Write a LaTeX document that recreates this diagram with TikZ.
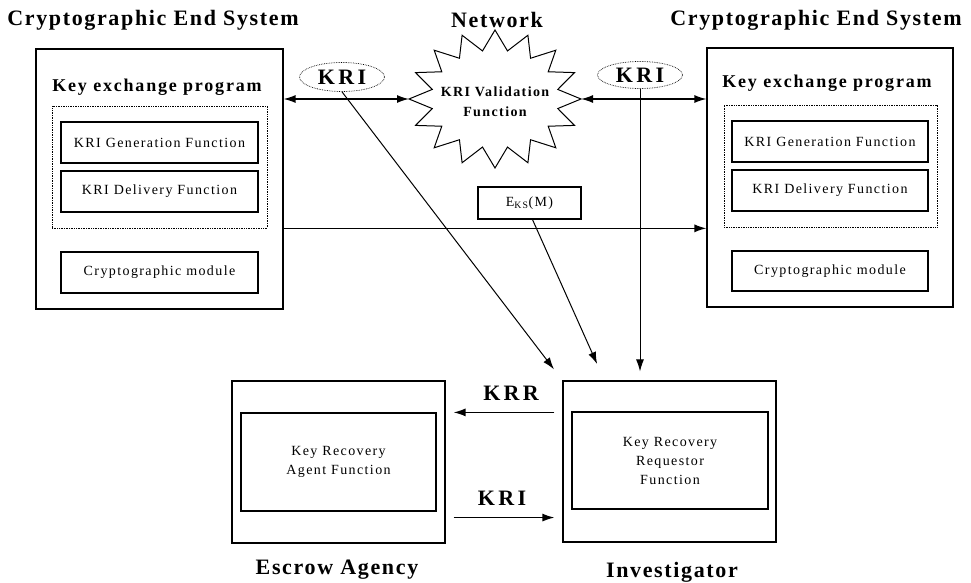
\documentclass[tikz,border=0pt]{standalone}
\usepackage{fontspec}
\setmainfont{Liberation Serif}
\newfontfamily\widefont[LetterSpace=15]{Liberation Serif}
\newfontfamily\midfont[LetterSpace=10]{Liberation Serif}
\newfontfamily\titlefont[LetterSpace=7.5]{Liberation Serif}
\usetikzlibrary{shapes.geometric}
\usetikzlibrary{arrows.meta}
\usetikzlibrary{positioning}

\tikzset{
  outer/.style={draw, line width=1.1pt, inner sep=0pt},
  dotbox/.style={draw, densely dotted, line width=0.7pt, inner sep=0pt},
  fbox/.style={draw, line width=1.2pt, inner sep=0pt, align=center,
    font=\midfont\fontsize{14}{19}\selectfont},
  title/.style={font=\titlefont\bfseries\fontsize{22}{24}\selectfont},
  subtitle/.style={font=\midfont\bfseries\fontsize{18}{20}\selectfont},
  tag/.style={font=\widefont\bfseries\fontsize{22}{24}\selectfont},
  kri/.style={draw, ellipse, densely dotted, line width=0.7pt, inner sep=0pt,
    minimum width=85pt, minimum height=29pt},
  tip/.tip={Latex[length=12pt,width=8pt]},
  link/.style={line width=1.4pt, -tip},
  thin link/.style={line width=1pt, -tip},
}

\begin{document}
\begin{tikzpicture}[x=1pt,y=-1pt]
  \useasboundingbox (0,0) rectangle (971,583);
  % left end system
  \node[title] (ltitle) at (153,20) {Cryptographic End System};
  \node[outer, minimum width=247pt, minimum height=260pt] (les) at (159.5,179) {};
  \node[subtitle] (lkep) at (157,87) {Key exchange program};
  \node[dotbox, minimum width=215pt, minimum height=122pt] (ldot) at (159.5,167) {};
  \node[fbox, minimum width=197pt, minimum height=41pt] (lgen) at (159.5,142.5) {KRI Generation Function};
  \node[fbox, minimum width=197pt, minimum height=41pt] (ldel) at (159.5,191.5) {KRI Delivery Function};
  \node[fbox, minimum width=197pt, minimum height=41pt] (lcm) at (159.5,272.5) {Cryptographic module};
  % right end system
  \node[title] (rtitle) at (816,20) {Cryptographic End System};
  \node[outer, minimum width=246pt, minimum height=259pt] (res) at (830,177.5) {};
  \node[subtitle] (rkep) at (827,83) {Key exchange program};
  \node[dotbox, minimum width=213pt, minimum height=122pt] (rdot) at (830.5,166) {};
  \node[fbox, minimum width=196pt, minimum height=41pt] (rgen) at (830,141.5) {KRI Generation Function};
  \node[fbox, minimum width=196pt, minimum height=41pt] (rdel) at (830,190.5) {KRI Delivery Function};
  \node[fbox, minimum width=196pt, minimum height=40pt] (rcm) at (830,271) {Cryptographic module};
  % network
  \node[title] (nettitle) at (497,20) {Network};
  \draw[line width=1pt] plot[samples at={0,...,31}, variable=\k]
    ({495+ifthenelse(mod(\k,2)==0,86,64)*cos(\k*11.25)},
     {99+ifthenelse(mod(\k,2)==0,69,49)*sin(\k*11.25)}) -- cycle;
  \node[align=center, font=\midfont\bfseries\fontsize{14}{20}\selectfont] (net) at (495,102)
    {KRI Validation\\Function};
  \coordinate (netw) at (409,99);
  \coordinate (nete) at (581,99);
  \node[kri, tag] (kril) at (342,77) {KRI};
  \node[kri, tag, minimum height=27pt] (krir) at (640,75) {KRI};
  \node[fbox, minimum width=103pt, minimum height=32pt] (eks) at (529.5,203) {E\textsubscript{KS}(M)};
  % escrow agency and investigator
  \node[outer, minimum width=213pt, minimum height=162pt] (esc) at (338.5,462) {};
  \node[fbox, minimum width=195pt, minimum height=98pt] (agent) at (338.5,462) {Key Recovery\\Agent Function};
  \node[title] (esclabel) at (337,570) {Escrow Agency};
  \node[outer, minimum width=213pt, minimum height=161pt] (inv) at (669.5,461.5) {};
  \node[fbox, minimum width=196pt, minimum height=97pt] (req) at (670,460.5) {Key Recovery\\Requestor\\Function};
  \node[title] (invlabel) at (672,572) {Investigator};
  % connectors
  \draw[link, tip-tip] (netw -| les.east) -- (netw);
  \draw[link, tip-tip] (nete) -- (nete -| res.west);
  \draw[link] (ldot.south -| les.east) -- (ldot.south -| res.west);
  \draw[thin link, shorten >=14pt] (kril.south) -- (inv.north west);
  \draw[thin link, shorten >=18pt] ([xshift=3pt]eks.south) -- ([xshift=42pt]inv.north west);
  \draw[thin link, shorten >=9pt] (krir.south) -- (krir.south |- inv.north);
  \draw[link, shorten <=8pt, shorten >=8pt] (inv.west |- agent.north) -- (esc.east |- agent.north);
  \draw[link, shorten <=8pt, shorten >=8pt] ([yshift=26pt]esc.south east) -- ([yshift=26pt]esc.south east -| inv.west);
  \node[tag] (krr) at (511,393) {KRR};
  \node[tag] (kri3) at (502,498) {KRI};
\end{tikzpicture}
\end{document}
